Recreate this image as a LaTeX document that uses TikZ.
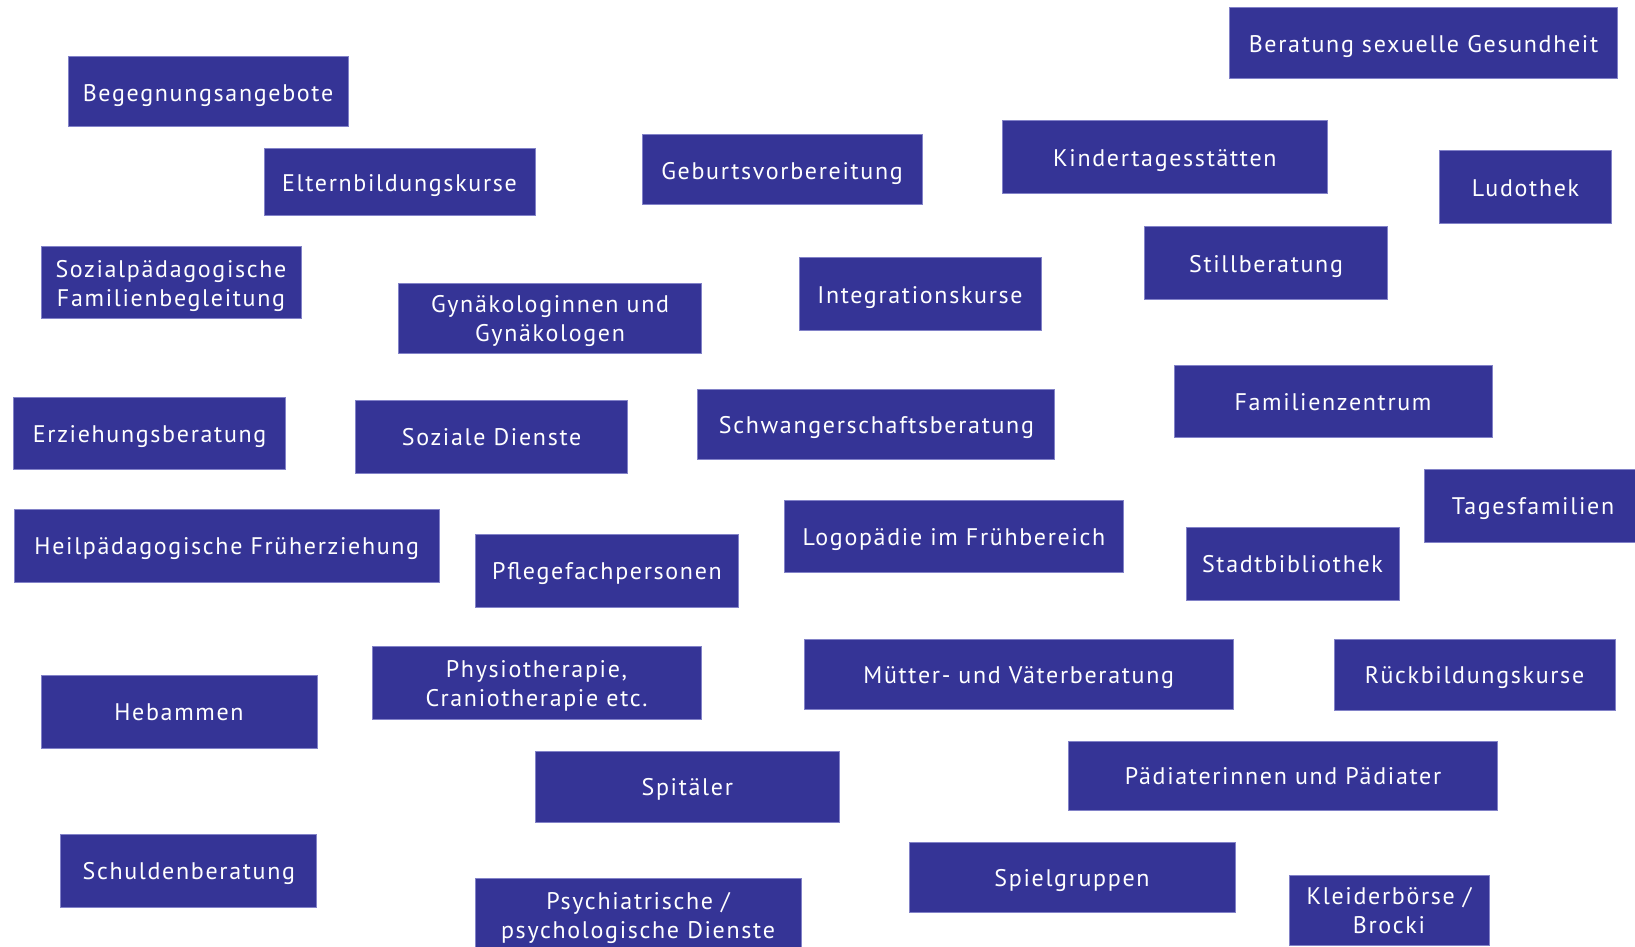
\documentclass[tikz,border=0pt]{standalone}
\usepackage{fontspec}
\setmainfont{PT Sans}[LetterSpace=7]
\definecolor{boxblue}{RGB}{53,52,150}
\definecolor{boxedge}{RGB}{130,130,200}
\tikzset{
  svctext/.style={text=white, inner sep=0pt, align=center, yshift=-1.6pt,
    font=\fontsize{12}{14.6}\selectfont,
    execute at begin node=\vphantom{g}, execute at end node=\vphantom{g}},
  svc/.style={rectangle, fill=boxblue, draw=boxedge, line width=0.5pt,
    inner sep=0pt, label={[svctext]center:{#1}}},
}
\begin{document}
\begin{tikzpicture}[x=0.5pt,y=-0.5pt]
\useasboundingbox (0,0) rectangle (1635,947);
\clip (0,0) rectangle (1635,947);
\fill[white] (0,0) rectangle (1635,947);
\node[svc={Begegnungsangebote}, minimum width=140pt, minimum height=35pt] (beg) at (208,92) {};
\node[svc={Elternbildungskurse}, minimum width=135.5pt, minimum height=33.5pt] (elt) at (399.5,182.5) {};
\node[svc={Geburtsvorbereitung}, minimum width=140pt, minimum height=35pt] (geb) at (782,170) {};
\node[svc={Sozialpädagogische\\Familienbegleitung}, minimum width=130pt, minimum height=35.5pt] (sozp) at (171,282.5) {};
\node[svc={Gynäkologinnen und\\Gynäkologen}, minimum width=151.75pt, minimum height=35pt] (gyn) at (550,318) {};
\node[svc={Integrationskurse}, minimum width=121pt, minimum height=36pt] (int) at (920,294) {};
\node[svc={Erziehungsberatung}, minimum width=136pt, minimum height=36pt] (erz) at (149.6,433) {};
\node[svc={Soziale Dienste}, minimum width=136pt, minimum height=36.5pt] (sod) at (491.6,436.5) {};
\node[svc={Schwangerschaftsberatung}, minimum width=178.5pt, minimum height=35pt] (schw) at (876.4,424) {};
\node[svc={Beratung sexuelle Gesundheit}, minimum width=193.8pt, minimum height=35.5pt] (bsg) at (1423.5,43.5) {};
\node[svc={Kindertagesstätten}, minimum width=162.8pt, minimum height=36.5pt] (kita) at (1164.8,157.5) {};
\node[svc={Ludothek}, minimum width=86pt, minimum height=36.5pt] (ludo) at (1525.5,187.5) {};
\node[svc={Stillberatung}, minimum width=121.75pt, minimum height=36pt] (still) at (1266,263) {};
\node[svc={Familienzentrum}, minimum width=159pt, minimum height=36pt] (fam) at (1333,401) {};
\node[svc={Tagesfamilien}, minimum width=109pt, minimum height=36.5pt] (tag) at (1533,505.5) {};
\node[svc={Heilpädagogische Früherziehung}, minimum width=212.2pt, minimum height=36.5pt] (heil) at (226.8,545.5) {};
\node[svc={Pflegefachpersonen}, minimum width=131.25pt, minimum height=36.5pt] (pfl) at (607,570.5) {};
\node[svc={Logopädie im Frühbereich}, minimum width=169.5pt, minimum height=36pt] (logo) at (954,536) {};
\node[svc={Stadtbibliothek}, minimum width=106.5pt, minimum height=36.5pt] (stadt) at (1292.5,563.5) {};
\node[svc={Hebammen}, minimum width=138pt, minimum height=36.5pt] (heb) at (179,711.5) {};
\node[svc={Physiotherapie,\\Craniotherapie etc.}, minimum width=164.5pt, minimum height=36.5pt] (phys) at (536.5,682.5) {};
\node[svc={Mütter- und Väterberatung}, minimum width=214.7pt, minimum height=35pt] (mut) at (1018.7,674) {};
\node[svc={Rückbildungskurse}, minimum width=140.5pt, minimum height=35.5pt] (ruck) at (1474.5,674.5) {};
\node[svc={Spitäler}, minimum width=152.3pt, minimum height=35.5pt] (spit) at (687.3,786.5) {};
\node[svc={Pädiaterinnen und Pädiater}, minimum width=214.25pt, minimum height=34.5pt] (pad) at (1283,775.5) {};
\node[svc={Schuldenberatung}, minimum width=128.15pt, minimum height=36.5pt] (schu) at (188.8,870.5) {};
\node[svc={Psychiatrische /\\psychologische Dienste}, minimum width=163pt, minimum height=37pt] (psy) at (638,915) {};
\node[svc={Spielgruppen}, minimum width=163pt, minimum height=35pt] (spiel) at (1072,877) {};
\node[svc={Kleiderbörse /\\Brocki}, minimum width=100pt, minimum height=35pt] (kleid) at (1389,910) {};
\end{tikzpicture}
\end{document}
